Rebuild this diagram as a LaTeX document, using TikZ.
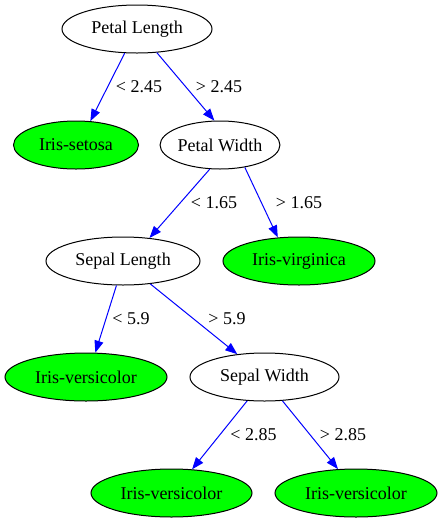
\documentclass[tikz,border=0pt]{standalone}
\usepackage{fontspec}
\setmainfont{Liberation Serif}
\usetikzlibrary{shapes.geometric,arrows.meta}
\begin{document}
\begin{tikzpicture}[x=1pt,y=-1pt,
  tnode/.style={ellipse,draw=black,line width=1pt,inner sep=0pt,minimum height=48pt,font=\fontsize{18}{21}\selectfont},
  leaf/.style={tnode,fill=green},
  inner/.style={tnode,fill=white},
  edge/.style={draw=blue,line width=1pt,-{Triangle[length=12pt,width=9pt]}},
  elab/.style={font=\fontsize{18}{21}\selectfont,inner sep=0pt}]
\useasboundingbox (0,0) rectangle (443,523);
\node[inner,minimum width=150pt] (pl) at (137,29) {Petal Length};
\node[leaf,minimum width=125pt] (set) at (76,145) {Iris-setosa};
\node[inner,minimum width=116pt] (pw) at (220,145) {Petal Width};
\node[inner,minimum width=154pt] (sl) at (123,261) {Sepal Length};
\node[leaf,minimum width=152pt] (vir) at (299,261) {Iris-virginica};
\node[leaf,minimum width=162pt] (v1) at (86,377) {Iris-versicolor};
\node[inner,minimum width=149pt] (sw) at (264.5,377) {Sepal Width};
\node[leaf,minimum width=161pt] (v2) at (171.5,493) {Iris-versicolor};
\node[leaf,minimum width=162pt] (v3) at (356,493) {Iris-versicolor};
\draw[edge] (pl.-117) -- (set.59);
\draw[edge] (pl.-50) -- (pw.103);
\draw[edge] (pw.-113) -- (sl.41);
\draw[edge] (pw.-42) -- (vir.132);
\draw[edge] (sl.-105) -- (v1.69);
\draw[edge] (sl.-40) -- (sw.140);
\draw[edge] (sw.-126) -- (v2.49);
\draw[edge] (sw.-53) -- (v3.127);
\node[elab] (l1) at (139,87) {< 2.45};
\node[elab] (l2) at (219,87) {> 2.45};
\node[elab] (l3) at (214,203) {< 1.65};
\node[elab] (l4) at (299,203) {> 1.65};
\node[elab] (l5) at (131,319) {< 5.9};
\node[elab] (l6) at (227,319) {> 5.9};
\node[elab] (l7) at (253.5,435) {< 2.85};
\node[elab] (l8) at (343,435) {> 2.85};
\end{tikzpicture}
\end{document}
